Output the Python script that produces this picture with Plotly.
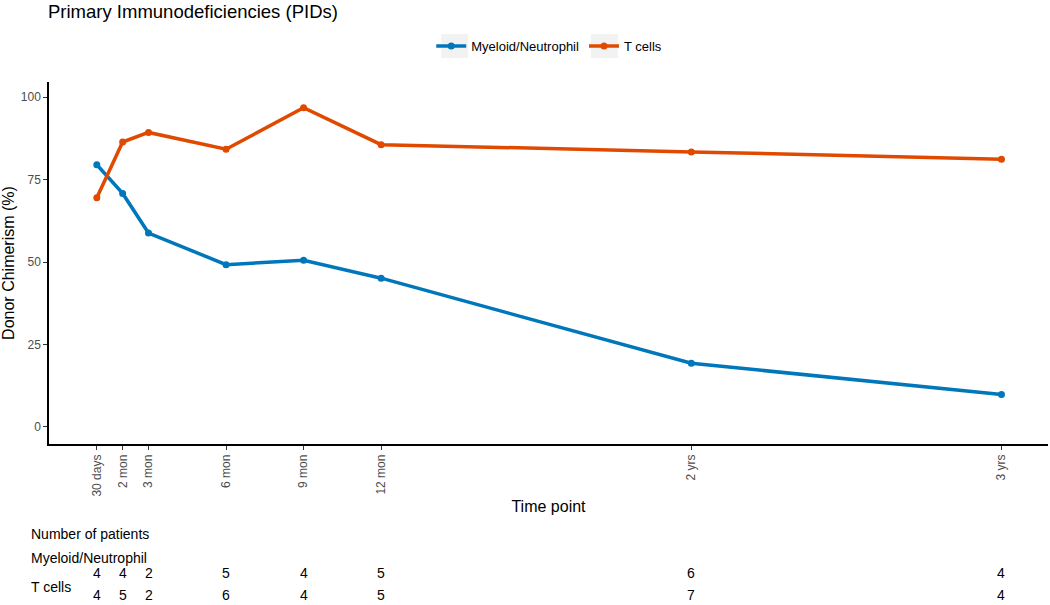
import plotly.graph_objects as go

# ---- data ----
months = [1, 2, 3, 6, 9, 12, 24, 36]
tick_labels = ["30 days", "2 mon", "3 mon", "6 mon", "9 mon", "12 mon", "2 yrs", "3 yrs"]
myeloid = [79.5, 70.8, 58.8, 49.2, 50.5, 45.1, 19.3, 9.8]
tcells = [69.5, 86.4, 89.3, 84.2, 96.8, 85.6, 83.4, 81.2]
myeloid_n = [4, 4, 2, 5, 4, 5, 6, 4]
tcells_n = [4, 5, 2, 6, 4, 5, 7, 4]

BLUE = "#0077BB"
RED = "#E04A00"
FONT = "Liberation Sans, Arial, sans-serif"

fig = go.Figure()
fig.add_trace(go.Scatter(x=months, y=myeloid, mode="lines+markers", name="Myeloid/Neutrophil",
                         line=dict(color=BLUE, width=3.5), marker=dict(color=BLUE, size=7)))
fig.add_trace(go.Scatter(x=months, y=tcells, mode="lines+markers", name="T cells",
                         line=dict(color=RED, width=3.5), marker=dict(color=RED, size=7)))

W, H = 1050, 605
L, R, T, B = 47, 2, 82, 161
PW, PH = W - L - R, H - T - B

px = lambda p: (p - L) / PW
py = lambda p: (H - B - p) / PH

fig.update_layout(
    width=W, height=H,
    margin=dict(l=L, r=R, t=T, b=B),
    paper_bgcolor="white", plot_bgcolor="white",
    font=dict(family=FONT, color="black"),
    title=dict(text="Primary Immunodeficiencies (PIDs)", x=48 / W, xanchor="left",
               y=1 - 12 / H, yanchor="middle", font=dict(size=18.5, color="black")),
    showlegend=True,
    legend=dict(orientation="h", x=px(430), xanchor="left", y=py(46), yanchor="middle",
                font=dict(size=13), bgcolor="rgba(0,0,0,0)", itemwidth=30),
    xaxis=dict(range=[-0.85, 37.8], tickmode="array", tickvals=months, ticktext=tick_labels,
               tickangle=-90, showline=True, linecolor="black", linewidth=1.5,
               ticks="outside", ticklen=4, tickcolor="#333333", showgrid=False, zeroline=False,
               tickfont=dict(size=12, color="#4D4D4D"),
               title=dict(text="Time point", font=dict(size=16, color="black"), standoff=5)),
    yaxis=dict(range=[-5.2, 104.6], tickvals=[0, 25, 50, 75, 100],
               showline=True, linecolor="black", linewidth=1.5,
               ticks="outside", ticklen=4, tickcolor="#333333", showgrid=False, zeroline=False,
               tickfont=dict(size=12, color="#4D4D4D"),
               title=dict(text="Donor Chimerism (%)", font=dict(size=16, color="black"), standoff=8)),
)

# grey legend key backgrounds (ggplot style)
for x0 in (440, 590):
    fig.add_shape(type="rect", xref="paper", yref="paper", layer="below",
                  x0=px(x0), x1=px(x0 + 27), y0=py(58), y1=py(34),
                  fillcolor="#F2F2F2", line=dict(width=0))

# patient count table
def ann(text, x, xref, ypix, anchor="center", yanchor="middle"):
    fig.add_annotation(text=text, x=x, xref=xref, y=py(ypix), yref="paper",
                       xanchor=anchor, yanchor=yanchor, showarrow=False,
                       font=dict(size=14, color="black", family=FONT))

ann("Number of patients", px(27), "paper", 534, "left")
ann("Myeloid/Neutrophil", px(27), "paper", 558, "left")
ann("T cells", px(27), "paper", 587, "left")
for m, n in zip(months, myeloid_n):
    ann(str(n), m, "x", 573)
for m, n in zip(months, tcells_n):
    ann(str(n), m, "x", 605, yanchor="bottom")

fig.write_html("out.html", config={"displayModeBar": False},
               post_script="document.body.style.margin='0';")
